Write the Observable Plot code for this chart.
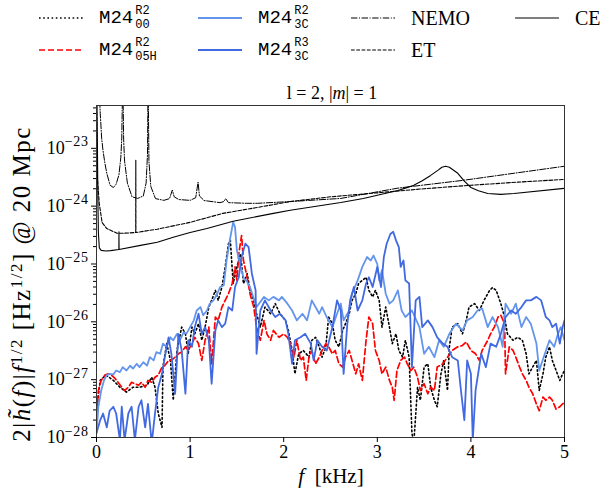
<!DOCTYPE html>
<html><head><meta charset="utf-8">
<script src="https://cdn.jsdelivr.net/npm/d3@7"></script>
<script src="https://cdn.jsdelivr.net/npm/@observablehq/plot@0.6"></script>
<style>
body{margin:0;background:#fff;}
#wrap{position:relative;width:608px;height:491px;overflow:hidden;font-family:'Liberation Serif','DejaVu Serif',serif;color:#000;}
#legend{position:absolute;left:0;top:0;width:608px;height:70px;}
.item{position:absolute;display:flex;align-items:center;height:30px;}
.item svg{display:block;}
.lab{margin-left:16px;font-size:20px;white-space:nowrap;display:flex;align-items:center;}
.mono{font-family:'Liberation Mono','DejaVu Sans Mono',monospace;font-size:19px;}
.ss{display:inline-flex;flex-direction:column;font-family:'Liberation Mono','DejaVu Sans Mono',monospace;font-size:12px;line-height:14px;margin-left:2px;}
#chart{position:absolute;left:0;top:70px;}
</style></head>
<body><div id="wrap"><div id="legend"></div><div id="chart"></div></div>
<script>
// ---- data (f in kHz, amplitude) ----
const f00 = [0,0.04,0.1,0.18,0.25,0.32,0.39,0.46,0.54,0.59,0.625,0.66,0.70,0.71,0.75,0.79,0.82,0.86,0.91,0.95,0.98,1.02,1.05,1.09,1.125,1.16,1.2,1.23,1.27,1.30,1.34,1.375,1.41,1.43,1.46,1.5,1.54,1.57,1.61,1.64,1.68,1.70,1.75,1.80,1.86,1.91,1.96,2.02,2.05,2.09,2.12,2.16,2.21,2.27,2.3,2.34,2.38,2.41,2.45,2.48,2.52,2.55,2.59,2.63,2.66,2.7,2.73,2.77,2.8,2.84,2.88,2.91,2.95,2.98,3.02,3.05,3.09,3.13,3.16,3.2,3.23,3.27,3.3,3.34,3.37,3.39,3.43,3.46,3.50,3.54,3.57,3.61,3.64,3.68,3.71,3.75,3.77,3.80,3.86,3.91,3.95,3.98,4.04,4.09,4.14,4.2,4.23,4.27,4.32,4.36,4.39,4.45,4.5,4.55,4.59,4.62,4.66,4.7,4.73,4.77,4.8,4.84,4.87,4.91,4.95,4.98,5.0];
const h00 = [3e-28,9.7e-28,1.2e-27,9.7e-28,7.4e-28,6.1e-28,7.4e-28,7.4e-28,8e-28,1.1e-27,7.4e-28,2.6e-28,1.5e-28,1.65e-27,4.2e-27,2.15e-27,4.4e-28,3.2e-27,8.1e-27,6.2e-27,2.8e-27,8.1e-27,6.2e-27,9.3e-27,4.8e-27,8.1e-27,1.8e-26,2.35e-26,3.5e-26,2.35e-26,4.0e-26,8.9e-26,2.24e-25,2.56e-25,4.6e-26,8.9e-26,1.5e-25,4.6e-26,6.8e-26,3.5e-26,2.35e-26,1.57e-26,8.1e-27,1.8e-26,1.38e-26,2.06e-26,1.38e-26,1.06e-26,7.1e-27,3.2e-27,1.26e-27,2.8e-27,3.2e-27,2.45e-27,4.8e-27,5.4e-27,3.7e-27,2.45e-27,3.7e-27,1.21e-26,9.3e-27,4.8e-27,3.7e-27,7.1e-27,9.3e-27,1.38e-26,2.35e-26,3.06e-26,4.6e-26,5.2e-26,5.9e-26,3.5e-26,2.7e-26,3.5e-26,2.35e-26,8.1e-27,1.8e-26,8.1e-27,4.2e-27,6.2e-27,3.2e-27,2.45e-27,4.8e-27,2.45e-27,1.2e-28,8e-29,7.4e-28,4.4e-28,1.65e-27,1.88e-27,7.4e-28,4.4e-28,3.4e-28,1.26e-27,2.15e-27,6.5e-28,3.7e-27,8.1e-27,9.3e-27,6.2e-27,1.06e-26,1.8e-26,2.06e-26,1.57e-26,2.35e-26,3.5e-26,3.9e-26,3.5e-26,2.06e-26,1.21e-26,6.2e-27,4.8e-27,5.4e-27,4.8e-27,2.8e-27,1.26e-27,1.65e-27,2.15e-27,6.5e-28,1.26e-27,2.45e-27,3.7e-27,2.15e-27,1.44e-27,9.7e-28,1.26e-27,1.44e-27];

const f05H = [0,0.02,0.05,0.09,0.125,0.16,0.2,0.23,0.27,0.30,0.34,0.375,0.41,0.45,0.48,0.52,0.55,0.59,0.625,0.66,0.70,0.73,0.77,0.80,0.84,0.875,0.91,0.95,0.98,1.02,1.05,1.09,1.125,1.16,1.2,1.23,1.27,1.30,1.34,1.375,1.41,1.45,1.48,1.5,1.52,1.55,1.57,1.61,1.64,1.68,1.71,1.75,1.79,1.82,1.86,1.89,1.95,2.0,2.04,2.07,2.11,2.14,2.18,2.21,2.24,2.27,2.3,2.34,2.38,2.41,2.45,2.48,2.52,2.55,2.59,2.63,2.66,2.7,2.73,2.77,2.8,2.84,2.88,2.91,2.95,2.98,3.02,3.05,3.09,3.13,3.16,3.18,3.21,3.25,3.29,3.32,3.36,3.39,3.43,3.46,3.50,3.54,3.57,3.61,3.64,3.70,3.75,3.80,3.86,3.91,3.95,4.0,4.05,4.09,4.12,4.18,4.21,4.25,4.29,4.32,4.36,4.37,4.41,4.45,4.48,4.52,4.55,4.59,4.62,4.66,4.70,4.73,4.77,4.80,4.84,4.87,4.91,4.95,4.98,5.0];
const h05H = [2.0e-28,6.5e-28,9.7e-28,1.2e-27,1.26e-27,1.2e-27,1.04e-27,9e-28,7.4e-28,6.5e-28,7.4e-28,9e-28,8.5e-28,8e-28,9e-28,7.4e-28,9.7e-28,9e-28,1.1e-27,1.2e-27,1.65e-27,1.75e-27,2.15e-27,2.15e-27,2.45e-27,2.8e-27,3.0e-27,3.7e-27,3.2e-27,4.2e-27,5.4e-27,4.2e-27,2.15e-27,4.8e-27,8.1e-27,1.88e-27,1.21e-26,1.06e-26,1.8e-26,2.35e-26,3.06e-26,4.6e-26,8.9e-26,5.2e-26,1.5e-25,3.1e-25,1.15e-25,5.9e-26,3.06e-26,1.8e-26,8.1e-27,4.8e-27,1.06e-26,6.2e-27,4.8e-27,7.1e-27,5.4e-27,6.2e-27,5.4e-27,4.2e-27,2.45e-27,4.8e-27,2.15e-27,2.45e-27,9.7e-28,2.45e-27,3.2e-27,1.88e-27,2.45e-27,3.2e-27,4.2e-27,3.7e-27,2.8e-27,3.2e-27,1.88e-27,1.65e-27,2.45e-27,3.2e-27,2.15e-27,1.26e-27,1.88e-27,9.7e-28,4.8e-27,1.21e-26,9.3e-27,3.2e-27,2.15e-27,1.26e-27,1.65e-27,9.7e-28,7.4e-28,4.4e-28,1.44e-27,2.15e-27,2.45e-27,1.88e-27,1.44e-27,1.65e-27,1.1e-27,6.5e-28,8.5e-28,5.7e-28,7.4e-28,6.5e-28,1.65e-27,1.88e-27,2.45e-27,3.2e-27,3.7e-27,3.9e-27,4.5e-27,3.2e-27,2.8e-27,2.15e-27,3.2e-27,4.8e-27,6.2e-27,8.1e-27,1.21e-26,1.3e-26,9.3e-27,1.26e-27,3.7e-27,3.2e-27,2.45e-27,1.65e-27,1.26e-27,9.7e-28,7.4e-28,5.7e-28,3.8e-28,2.9e-28,5.0e-28,4.4e-28,5.0e-28,4.4e-28,3.1e-28,3.4e-28,3.8e-28,4.1e-28];

const f3CR2 = [0,0.02,0.05,0.08,0.11,0.14,0.18,0.21,0.25,0.28,0.32,0.36,0.39,0.43,0.46,0.5,0.54,0.57,0.61,0.64,0.68,0.71,0.75,0.79,0.82,0.86,0.89,0.93,0.96,1.0,1.04,1.07,1.11,1.14,1.18,1.21,1.25,1.29,1.32,1.36,1.39,1.43,1.46,1.48,1.5,1.54,1.57,1.61,1.64,1.71,1.79,1.84,1.89,1.95,1.98,2.04,2.09,2.14,2.2,2.25,2.3,2.34,2.38,2.41,2.46,2.52,2.57,2.61,2.64,2.7,2.73,2.79,2.84,2.89,2.93,2.96,3.0,3.02,3.05,3.09,3.13,3.17,3.22,3.26,3.30,3.37,3.45,3.5,3.55,3.61,3.66,3.71,3.77,3.84,3.91,3.96,4.02,4.07,4.12,4.18,4.23,4.29,4.34,4.37,4.43,4.48,4.54,4.59,4.64,4.70,4.73,4.79,4.84,4.89,4.93,4.96,5.0];
const h3CR2 = [1.2e-28,3.4e-28,6.5e-28,9.7e-28,1.2e-27,1.26e-27,1.23e-27,1.44e-27,1.35e-27,1.65e-27,1.44e-27,1.75e-27,1.55e-27,1.88e-27,1.65e-27,2.0e-27,1.75e-27,2.45e-27,2.15e-27,3.0e-27,2.8e-27,4.2e-27,3.7e-27,5.4e-27,4.8e-27,6.2e-27,4.8e-27,6.6e-27,6.2e-27,8.1e-27,1.06e-26,1.57e-26,1.8e-26,1.3e-26,1.57e-26,2.06e-26,2.35e-26,3.06e-26,4.0e-26,4.3e-26,1.15e-25,2.9e-25,5.3e-25,4.35e-25,1.72e-25,8.9e-26,5.9e-26,4.9e-26,4.0e-26,1.8e-26,2.7e-26,2.35e-26,2.7e-26,2.35e-26,2.7e-26,2.06e-26,1.57e-26,1.06e-26,1.38e-26,1.06e-26,2.35e-26,1.8e-26,1.38e-26,1.8e-26,1.21e-26,8.1e-27,1.38e-26,2.06e-26,1.06e-26,1.57e-26,3.06e-26,5.2e-26,8.9e-26,1.32e-25,1.15e-25,1.4e-25,1.0e-25,5.2e-26,7.8e-26,3.06e-26,2.06e-26,2.35e-26,3.5e-26,1.57e-26,1.21e-26,1.57e-26,8.1e-27,2.8e-27,3.7e-27,2.45e-27,4.8e-27,3.7e-27,6.2e-27,9.3e-27,7.1e-27,1.06e-26,1.21e-26,1.57e-26,1.7e-26,8.1e-27,1.21e-26,8.1e-27,3.7e-27,2.06e-26,1.38e-26,2.06e-26,8.1e-27,1.21e-26,9.3e-27,4.2e-27,1.44e-27,2.8e-27,4.8e-27,3.7e-27,6.2e-27,8.1e-27,4.8e-27];

const f3CR3 = [0,0.04,0.07,0.11,0.14,0.18,0.21,0.25,0.27,0.30,0.34,0.375,0.41,0.45,0.48,0.52,0.55,0.59,0.625,0.66,0.70,0.73,0.77,0.80,0.84,0.875,0.91,0.95,0.98,1.02,1.05,1.09,1.125,1.16,1.2,1.23,1.27,1.30,1.34,1.375,1.41,1.45,1.48,1.52,1.55,1.59,1.625,1.66,1.70,1.71,1.75,1.80,1.86,1.91,1.96,2.02,2.05,2.09,2.12,2.18,2.23,2.29,2.32,2.36,2.41,2.46,2.52,2.57,2.61,2.64,2.68,2.71,2.75,2.79,2.84,2.88,2.91,2.95,3.0,3.04,3.07,3.1,3.14,3.17,3.2,3.23,3.25,3.28,3.30,3.34,3.37,3.41,3.45,3.48,3.54,3.59,3.64,3.70,3.75,3.80,3.86,3.89,3.93,3.96,4.0,4.02,4.05,4.11,4.16,4.21,4.27,4.32,4.37,4.43,4.48,4.54,4.59,4.64,4.70,4.75,4.80,4.84,4.87,4.91,4.95,4.98,5.0];
const h3CR3 = [1.2e-28,2.0e-28,2.6e-28,1.5e-28,2.9e-28,3.4e-28,2.6e-28,9e-29,3.4e-28,9e-29,2.6e-28,3.4e-28,9e-29,3.4e-28,4.4e-28,1.5e-28,3.8e-28,8e-29,2.6e-28,7.4e-28,1.26e-27,2.45e-27,5.4e-27,2.8e-27,5.7e-28,6.2e-27,3.2e-27,5.7e-28,4.8e-27,3.7e-27,8.1e-27,1.38e-26,6.2e-27,8.1e-27,4.8e-27,8.5e-28,7.1e-27,1.06e-26,8.1e-27,9.3e-27,1.8e-26,1.57e-26,4.0e-26,5.9e-26,1.32e-25,2.24e-25,1.96e-25,6.8e-26,3.5e-26,2.8e-27,1.57e-26,2.35e-26,1.57e-26,1.21e-26,1.38e-26,1.06e-26,6.2e-27,1.88e-27,4.8e-27,5.4e-27,6.2e-27,4.2e-27,2.15e-27,4.8e-27,3.7e-27,3.2e-27,8.1e-27,2.35e-26,1.57e-26,1.26e-27,9.3e-27,2.35e-26,4.0e-26,1.57e-26,2.35e-26,4.6e-26,5.9e-26,4.0e-26,8.9e-26,4.0e-26,1.32e-25,2.24e-25,3.3e-25,3.6e-25,2.56e-25,1.96e-25,8.9e-26,1.15e-25,5.2e-26,4.6e-26,1.65e-27,2.35e-26,2.7e-26,8.1e-27,1.06e-26,8.1e-27,5.4e-27,4.2e-27,3.7e-27,2.45e-27,2.15e-27,7.4e-28,2.0e-28,2.15e-27,1.26e-27,9e-29,6.5e-28,2.8e-27,1.65e-27,4.2e-27,3.7e-27,6.2e-27,1.21e-26,1.57e-26,1.38e-26,1.8e-26,2.35e-26,2.35e-26,2.7e-26,2.35e-26,1.21e-26,1.06e-26,8.1e-27,9.3e-27,4.2e-27,8.1e-27,1.06e-26];

const fNEMO = [0.03,0.04,0.055,0.07,0.09,0.11,0.145,0.18,0.21,0.24,0.26,0.27,0.278,0.283,0.29,0.30,0.33,0.38,0.44,0.5,0.53,0.545,0.55,0.553,0.56,0.58,0.63,0.72,0.78,0.81,0.83,0.88,1.0,1.06,1.085,1.1,1.15,1.32,1.36,1.38,1.41,1.6,1.72,2.07,2.61,3.22,3.92,5.0];
const hNEMO = [1e-22,4e-23,1.5e-23,9e-24,5.5e-24,3.7e-24,2.3e-24,2.1e-24,2.4e-24,3.5e-24,7e-24,1.5e-23,1e-22,1e-22,1.4e-23,6e-24,2.5e-24,1.45e-24,1.36e-24,1.5e-24,2.5e-24,8e-24,1e-22,1e-22,6e-24,2.2e-24,1.35e-24,1.26e-24,1.35e-24,1.9e-24,1.45e-24,1.3e-24,1.26e-24,1.4e-24,2.6e-24,1.5e-24,1.25e-24,1.15e-24,1.2e-24,1.35e-24,1.15e-24,1.12e-24,1.12e-24,1.2e-24,1.36e-24,2.05e-24,2.8e-24,4.9e-24];

const fET = [0.0,0.01,0.03,0.06,0.11,0.22,0.28,0.419,0.42,0.421,0.65,1.0,1.35,1.72,2.07,2.5,3.0,3.5,4.0,4.5,5.0];
const hET = [1e-22,3e-24,1.1e-24,5.2e-25,4.1e-25,3.4e-25,3.4e-25,3.5e-25,6.2e-24,3.5e-25,4.0e-25,5.25e-25,7.5e-25,9.5e-25,1.2e-24,1.45e-24,1.7e-24,2.0e-24,2.3e-24,2.6e-24,2.9e-24];

const fCE = [0.003,0.01,0.015,0.02,0.03,0.05,0.1,0.15,0.239,0.24,0.241,0.47,0.65,0.82,1.0,1.18,1.46,1.89,2.07,2.61,2.85,3.22,3.3,3.39,3.48,3.57,3.65,3.69,3.73,3.77,3.86,3.93,4.0,4.08,4.18,4.32,4.46,5.0];
const hCE = [1e-22,1e-23,1.2e-24,3.5e-25,1.9e-25,1.72e-25,1.68e-25,1.7e-25,1.78e-25,3.6e-25,1.78e-25,2.1e-25,2.37e-25,2.9e-25,3.5e-25,4.1e-25,5.5e-25,7.5e-25,8.5e-25,1.16e-24,1.36e-24,1.87e-24,2.05e-24,2.29e-24,2.75e-24,3.4e-24,4.2e-24,4.7e-24,4.9e-24,4.7e-24,3.7e-24,2.7e-24,2.1e-24,1.85e-24,1.66e-24,1.6e-24,1.66e-24,2.03e-24];

const xTicks = [0,1,2,3,4,5];
const yMajor = [1e-28,1e-27,1e-26,1e-25,1e-24,1e-23];
const yMinor = [2e-28,3e-28,4e-28,5e-28,6e-28,7e-28,8e-28,9e-28,2e-27,3e-27,4e-27,5e-27,6e-27,7e-27,8e-27,9e-27,2e-26,3e-26,4e-26,5e-26,6e-26,7e-26,8e-26,9e-26,2e-25,3e-25,4e-25,5e-25,6e-25,7e-25,8e-25,9e-25,2e-24,3e-24,4e-24,5e-24,6e-24,7e-24,8e-24,9e-24,2e-23,3e-23,4e-23,5e-23];

const series = [
  {f:f00, h:h00, stroke:"#000000", dash:"1.6,2.6", w:1.6},
  {f:f05H, h:h05H, stroke:"#ff0000", dash:"6,3", w:1.7},
  {f:f3CR2, h:h3CR2, stroke:"#6495ED", dash:null, w:1.8},
  {f:f3CR3, h:h3CR3, stroke:"#4169E1", dash:null, w:1.8},
  {f:fNEMO, h:hNEMO, stroke:"#000000", dash:"6.4,1.6,1,1.6", w:1.0},
  {f:fET, h:hET, stroke:"#000000", dash:"3.7,1.6", w:1.1},
  {f:fCE, h:hCE, stroke:"#000000", dash:null, w:1.1}
];
const toRows = (fs, hs) => fs.map((f, i) => ({f, h: hs[i]}));

const lineMarks = series.map(s => Plot.line(toRows(s.f, s.h), {
  x: "f", y: "h", stroke: s.stroke, strokeWidth: s.w,
  strokeDasharray: s.dash || undefined, clip: true
}));

const chart = Plot.plot({
  width: 608, height: 421,
  marginLeft: 96, marginRight: 44, marginTop: 35, marginBottom: 54,
  style: {fontFamily: "'Liberation Serif','DejaVu Serif',serif", fontSize: "18px", background: "#fff", color: "#000", overflow: "visible"},
  x: {domain: [0, 5]},
  y: {type: "log", domain: [1e-28, 5.5e-23]},
  marks: [
    ...lineMarks,
    Plot.frame({stroke: "#333", strokeWidth: 1}),
    Plot.axisX(xTicks, {tickSize: 5, tickPadding: 3, label: null, tickFormat: d => String(d), fontSize: 18}),
    Plot.axisY(yMajor, {tickSize: 5, tickPadding: 3, label: null, fontSize: 18,
      tickFormat: d => "10^\u2212" + Math.round(-Math.log10(d))}),
    Plot.axisY(yMinor, {tickSize: 3, label: null, tickFormat: () => ""})
  ]
});
document.getElementById("chart").appendChild(chart);

const svg = d3.select(chart);
svg.selectAll('g[aria-label="y-axis tick label"] text').each(function () {
  const t = this.textContent;
  if (!t.includes("^")) return;
  const ex = t.split("^")[1];
  const s = d3.select(this);
  s.text(null);
  s.append("tspan").text("10");
  s.append("tspan").attr("dy", "-0.55em").style("font-size", "14px").style("letter-spacing", "0.6px").text(ex);
});

// title
const title = svg.append("text").attr("x", 332).attr("y", 25).attr("text-anchor", "middle")
  .style("font-size", "18px").attr("dominant-baseline", "middle");
title.append("tspan").text("l\u2005=\u20052, |");
title.append("tspan").attr("font-style", "italic").text("m");
title.append("tspan").text("|\u2005=\u20051");

// x label
const xl = svg.append("text").attr("x", 331).attr("y", 408).attr("text-anchor", "middle")
  .style("font-size", "21px").attr("dominant-baseline", "middle");
xl.append("tspan").attr("font-style", "italic").text("f");
xl.append("tspan").text("\u2002[kHz]");

// y label: runs upward from its start; fitted to the reference span
const yLabelCenter = 214, yLabelLen = 366;
const yl = svg.append("text").attr("text-anchor", "start").style("font-size", "22px")
  .attr("dominant-baseline", "middle");
yl.append("tspan").text("2|");
yl.append("tspan").attr("font-style", "italic").text("h\u0303");
yl.append("tspan").text("(");
yl.append("tspan").attr("font-style", "italic").text("f");
yl.append("tspan").text(")|");
yl.append("tspan").attr("font-style", "italic").text("f");
yl.append("tspan").attr("dy", "-0.38em").style("font-size", "0.68em").text("1/2");
yl.append("tspan").attr("dy", "0.26em").text(" [Hz");
yl.append("tspan").attr("dy", "-0.38em").style("font-size", "0.68em").text("1/2");
yl.append("tspan").attr("dy", "0.26em").text("] @ 20 Mpc");
{
  const node = yl.node();
  const L0 = node.getComputedTextLength();
  const fs = Math.min(25, 22 * yLabelLen / L0);
  yl.style("font-size", fs + "px");
  const L1 = node.getComputedTextLength();
  const ls = Math.max(0, Math.min(1.5, (yLabelLen - L1) / node.getNumberOfChars()));
  yl.style("letter-spacing", ls + "px");
  const L2 = node.getComputedTextLength();
  yl.attr("transform", `translate(24,${yLabelCenter + L2 / 2}) rotate(-90)`);
}

// ---- legend ----
const legendNames = [
  {base:"M24", sup:"R2", sub:"00"},
  {base:"M24", sup:"R2", sub:"05H"},
  {base:"M24", sup:"R2", sub:"3C"},
  {base:"M24", sup:"R3", sub:"3C"},
  {text:"NEMO"}, {text:"ET"}, {text:"CE"}
];
const legendPos = [[39,3],[39,35],[198,3],[198,35],[351,3],[351,35],[515,3]];
const leg = d3.select("#legend");
legendNames.forEach((n, i) => {
  const s = series[i];
  const it = leg.append("div").attr("class", "item")
    .style("left", legendPos[i][0] + "px").style("top", legendPos[i][1] + "px");
  const sv = it.append("svg").attr("width", 44).attr("height", 30);
  sv.append("line").attr("x1", 0).attr("x2", 44).attr("y1", 15).attr("y2", 15)
    .attr("stroke", s.stroke).attr("stroke-width", s.w)
    .attr("stroke-dasharray", s.dash);
  const lab = it.append("div").attr("class", "lab");
  if (n.text) { lab.text(n.text); }
  else {
    lab.append("span").attr("class", "mono").text(n.base);
    const ss = lab.append("span").attr("class", "ss");
    ss.append("span").text(n.sup);
    ss.append("span").text(n.sub);
  }
});
</script></body></html>
